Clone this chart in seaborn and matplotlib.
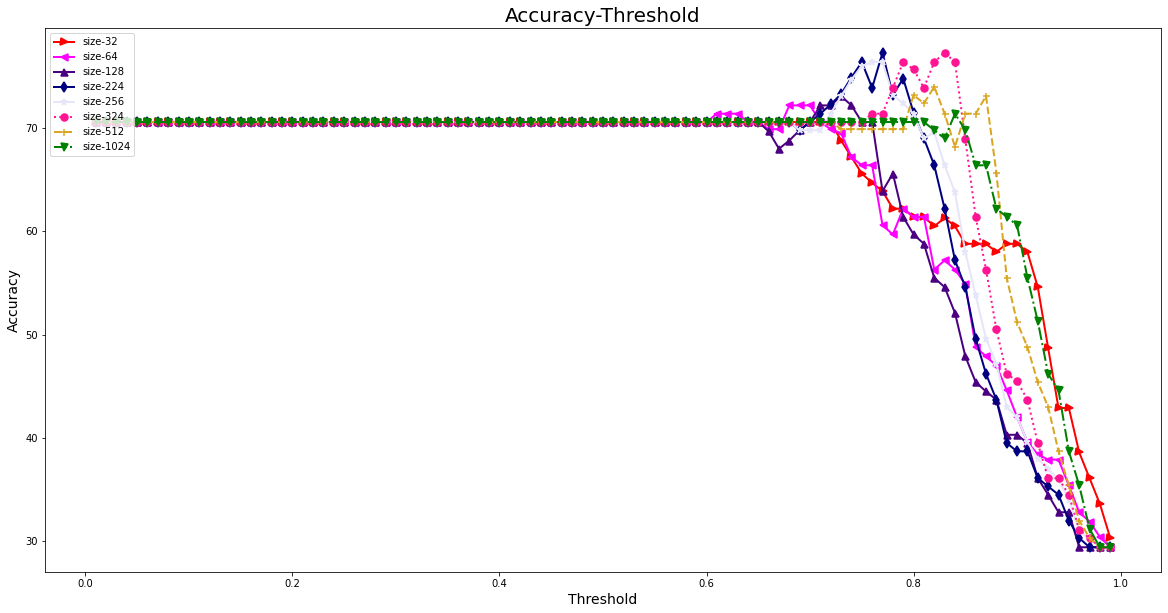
import numpy as np
import pandas as pd
import matplotlib
matplotlib.use("Agg")
import matplotlib.pyplot as plt
import seaborn as sns

# thresholds 0.01 .. 0.99
thresholds = np.round(np.arange(1, 100) / 100, 2)

base = 70.59
low = 29.41
n_flat = 59  # 0.01 .. 0.59 all at the base accuracy

# values for thresholds 0.60 .. 0.99
acc_32 = [base] * 13 + [68.8, 67.2, 65.6, 64.7, 63.9, 62.2, 62.2, 61.4, 61.4, 60.5,
                         61.3, 60.5, 58.8, 58.8, 58.8, 58.0, 58.8, 58.8, 58.0, 54.6,
                         48.7, 42.9, 42.9, 38.6, 36.1, 33.6, 30.3]
acc_64 = [base, 71.4, 71.4, 71.4, base, base, 69.9, 69.9, 72.2, 72.2,
          72.2, base, 69.9, 69.5, 67.2, 66.4, 66.4, 60.6, 59.7, 62.2,
          61.4, 61.4, 56.3, 57.2, 56.3, 54.9, 48.8, 47.9, 47.0, 44.6,
          42.0, 39.6, 38.4, 37.9, 37.9, 35.4, 32.8, 31.9, 30.4, low]
acc_128 = [base] * 6 + [69.7, 68.0, 68.8, 69.8, base, 72.2, 72.2, 73.1, 72.2, base,
                        base, 63.9, 65.6, 61.4, 59.7, 58.8, 55.5, 54.6, 52.1, 47.9,
                        45.4, 44.5, 43.7, 40.3, 40.3, 39.5, 36.1, 34.5, 32.8, 32.8,
                        low, low, low, low]
acc_224 = [base] * 9 + [69.8, base, 71.4, 72.3, 73.3, 74.9, 76.4, 73.9, 77.3, 73.2,
                        74.8, 71.5, 69.0, 66.4, 62.2, 57.2, 54.6, 49.6, 46.2, 43.7,
                        39.5, 38.7, 38.7, 36.1, 35.3, 34.5, 32.0, 30.3, low, low,
                        low]
acc_256 = [base] * 9 + [69.8, 69.8, 69.8, 71.4, 73.1, 74.7, 76.0, 76.4, 76.4, 73.2,
                        72.4, 71.4, 69.0, 69.6, 66.4, 63.8, 58.0, 53.8, 49.6, 47.2,
                        43.0, 42.0, 39.6, 38.0, 37.0, 36.0, 34.0, 31.0, 30.2, low,
                        low]
acc_324 = [base] * 16 + [71.4, 71.4, 73.9, 76.4, 75.7, 73.9, 76.4, 77.3, 76.4, 68.9,
                         61.4, 56.3, 50.5, 46.2, 45.5, 43.7, 39.5, 36.1, 36.1, 34.5,
                         31.1, 30.3, low, low]
acc_512 = [base] * 13 + [69.9, 69.9, 69.9, 69.9, 69.9, 69.9, 69.9, 73.2, 72.4, 74.0,
                         71.4, 68.2, 71.4, 71.4, 73.1, 65.7, 55.5, 51.2, 48.8, 45.4,
                         43.0, 38.7, 35.4, 32.0, 30.3, low, low]
acc_1024 = [base] * 22 + [69.8, 69.0, 71.4, 69.8, 66.4, 66.4, 62.2, 61.4, 60.6, 55.5,
                          51.3, 46.2, 44.6, 38.7, 35.4, 31.2, low, low]

sizes = ["size-32", "size-64", "size-128", "size-224", "size-256",
         "size-324", "size-512", "size-1024"]
series = [acc_32, acc_64, acc_128, acc_224, acc_256, acc_324, acc_512, acc_1024]
colors = ["red", "magenta", "indigo", "navy", "lavender",
          "deeppink", "goldenrod", "green"]
markers = [">", "<", "^", "d", "*", "o", "+", "v"]
linestyles = ["-", "-", "-", "-", "-", ":", "--", "-."]

df = pd.DataFrame({"Threshold": thresholds})
for name, vals in zip(sizes, series):
    df[name] = [base] * n_flat + vals

fig = plt.figure(figsize=(1168 / 72, 613 / 72), dpi=72)
ax = fig.add_axes([0.0385, 0.0669, 0.9555, 0.8874])

for name, c, m, ls in zip(sizes, colors, markers, linestyles):
    sns.lineplot(data=df, x="Threshold", y=name, color=c, marker=m,
                 linestyle=ls, linewidth=2, markersize=7,
                 markeredgecolor=c, markeredgewidth=1.5,
                 label=name, ax=ax)

ax.set_title("Accuracy-Threshold", fontsize=20)
ax.set_xlabel("Threshold", fontsize=14)
ax.set_ylabel("Accuracy", fontsize=14)
ax.set_xticks([0.0, 0.2, 0.4, 0.6, 0.8, 1.0])
ax.tick_params(labelsize=10)
ax.legend(loc="upper left", fontsize=10)

fig.savefig("out.png", dpi=72)
